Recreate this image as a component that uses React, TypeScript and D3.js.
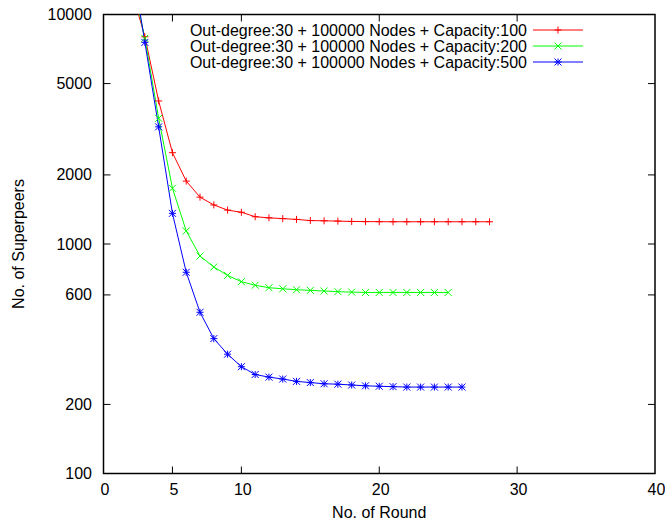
import React from 'react';
import * as d3 from 'd3';

const rounds100 = [2, 3, 4, 5, 6, 7, 8, 9, 10, 11, 12, 13, 14, 15, 16, 17, 18, 19, 20, 21, 22, 23, 24, 25, 26, 27, 28];
const cap100 = [13000, 8000, 4200, 2500, 1880, 1600, 1480, 1405, 1375, 1315, 1300, 1290, 1280, 1265, 1262, 1258, 1254, 1252, 1251, 1250, 1250, 1250, 1250, 1250, 1250, 1250, 1250];

const rounds200 = [2, 3, 4, 5, 6, 7, 8, 9, 10, 11, 12, 13, 14, 15, 16, 17, 18, 19, 20, 21, 22, 23, 24, 25];
const cap200 = [15000, 7870, 3530, 1750, 1140, 886, 794, 730, 685, 661, 645, 638, 632, 628, 624, 620, 617, 615, 615, 615, 615, 615, 615, 615];

const rounds500 = [2, 3, 4, 5, 6, 7, 8, 9, 10, 11, 12, 13, 14, 15, 16, 17, 18, 19, 20, 21, 22, 23, 24, 25, 26];
const cap500 = [17800, 7560, 3240, 1360, 753, 504, 387, 331, 292, 270, 263, 258, 252, 249, 246, 245, 243, 241, 240, 239, 238, 238, 238, 238, 238];

const xTicks = [0, 5, 10, 20, 30, 40];
const xTickLabels = ['0', '5', '10', '20', '30', '40'];
const yTicks = [100, 200, 600, 1000, 2000, 5000, 10000];

const series = [
  { label: 'Out-degree:30 + 100000 Nodes + Capacity:100', xs: rounds100, ys: cap100, color: '#ff0000', marker: 'plus' },
  { label: 'Out-degree:30 + 100000 Nodes + Capacity:200', xs: rounds200, ys: cap200, color: '#00ff00', marker: 'cross' },
  { label: 'Out-degree:30 + 100000 Nodes + Capacity:500', xs: rounds500, ys: cap500, color: '#0000ff', marker: 'star' },
];

const left = 103.5, right = 655, top = 14.5, bottom = 473.5;
const font = 'Liberation Sans, Arial, Helvetica, sans-serif';

function Marker({ x, y, kind, color }: { x: number; y: number; kind: string; color: string }) {
  const s = 3.5;
  const plus = `M${x - s},${y}H${x + s}M${x},${y - s}V${y + s}`;
  const cross = `M${x - s},${y - s}L${x + s},${y + s}M${x - s},${y + s}L${x + s},${y - s}`;
  const d = kind === 'plus' ? plus : kind === 'cross' ? cross : plus + cross;
  return <path d={d} stroke={color} strokeWidth={1} fill="none" />;
}

export default function App() {
  const x = d3.scaleLinear().domain([0, 40]).range([left, right]);
  const y = d3.scaleLog().domain([100, 10000]).range([bottom, top]);
  const line = d3.line<[number, number]>().x(d => x(d[0])).y(d => y(d[1]));

  return (
    <svg width={665} height={522} style={{ display: 'block', position: 'absolute', left: 0, top: 0 }} fontFamily={font}>
      <defs>
        <clipPath id="plot">
          <rect x={left} y={top} width={right - left} height={bottom - top} />
        </clipPath>
      </defs>
      <rect x={0} y={0} width={665} height={522} fill="#fff" />
      {/* ticks, mirrored on all sides */}
      {xTicks.filter(t => t > 0 && t < 40).map(t => (
        <g key={'x' + t}>
          <line x1={x(t)} x2={x(t)} y1={bottom} y2={bottom - 7} stroke="#000" />
          <line x1={x(t)} x2={x(t)} y1={top} y2={top + 7} stroke="#000" />
        </g>
      ))}
      {xTicks.map((t, i) => (
        <text key={'xl' + t} x={x(t) + 1.5} y={495} fontSize={16} textAnchor="middle">{xTickLabels[i]}</text>
      ))}
      {yTicks.map(t => (
        <g key={'y' + t}>
          {t > 100 && t < 10000 && (
            <>
              <line x1={left} x2={left + 7} y1={y(t)} y2={y(t)} stroke="#000" />
              <line x1={right} x2={right - 7} y1={y(t)} y2={y(t)} stroke="#000" />
            </>
          )}
          <text x={92} y={y(t) + 5.5} fontSize={16} textAnchor="end">{t}</text>
        </g>
      ))}
      <rect x={left} y={top} width={right - left} height={bottom - top} fill="none" stroke="#000" strokeWidth={1.5} />
      <text x={(left + right) / 2} y={518} fontSize={16} textAnchor="middle">No. of Round</text>
      <text transform={`translate(24,${(top + bottom) / 2}) rotate(-90)`} fontSize={16} textAnchor="middle">No. of Superpeers</text>
      <g clipPath="url(#plot)">
        {series.map(s => (
          <path key={s.label} d={line(s.xs.map((v, i) => [v, s.ys[i]] as [number, number])) || ''} stroke={s.color} strokeWidth={1} fill="none" />
        ))}
      </g>
      {series.map(s =>
        s.xs.map((v, i) =>
          s.ys[i] <= 10000 ? <Marker key={s.label + v} x={x(v)} y={y(s.ys[i])} kind={s.marker} color={s.color} /> : null
        )
      )}
      {series.map((s, i) => (
        <g key={'lg' + i}>
          <text x={527} y={30 + i * 16 + 5.5} fontSize={16} textAnchor="end">{s.label}</text>
          <line x1={533} x2={583} y1={30 + i * 16} y2={30 + i * 16} stroke={s.color} />
          <Marker x={558} y={30 + i * 16} kind={s.marker} color={s.color} />
        </g>
      ))}
    </svg>
  );
}
